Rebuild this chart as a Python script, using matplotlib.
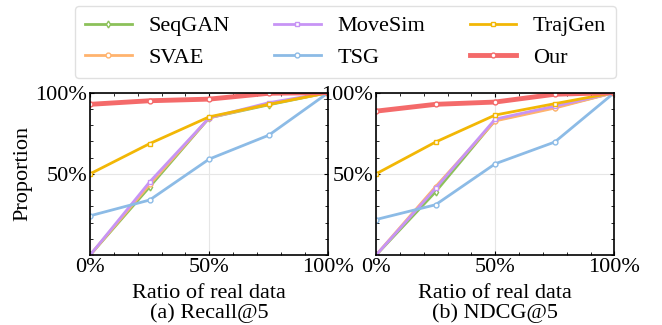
import numpy as np
import matplotlib
matplotlib.use("Agg")
import matplotlib.pyplot as plt
from matplotlib.ticker import AutoMinorLocator, PercentFormatter

plt.rcParams['font.family'] = ['Liberation Serif', 'DejaVu Serif']
plt.rcParams['font.size'] = 16

# Datos (proporción, 0-1)
ratios = [0, 25, 50, 75, 100]
names = ['SeqGAN', 'SVAE', 'MoveSim', 'TSG', 'TrajGen', 'Our']

recall_seqgan = [0.0, 0.42, 0.845, 0.925, 1.0]
recall_svae = [0.0, 0.435, 0.845, 0.93, 1.0]
recall_movesim = [0.0, 0.45, 0.845, 0.938, 1.0]
recall_tsg = [0.242, 0.339, 0.591, 0.738, 1.0]
recall_trajgen = [0.50, 0.686, 0.851, 0.928, 1.0]
recall_our = [0.928, 0.95, 0.96, 0.996, 1.0]

ndcg_seqgan = [0.0, 0.39, 0.83, 0.91, 1.0]
ndcg_svae = [0.0, 0.421, 0.826, 0.905, 1.0]
ndcg_movesim = [0.0, 0.411, 0.837, 0.917, 1.0]
ndcg_tsg = [0.219, 0.31, 0.562, 0.696, 1.0]
ndcg_trajgen = [0.50, 0.696, 0.862, 0.932, 1.0]
ndcg_our = [0.886, 0.928, 0.942, 0.99, 1.0]

colores = ['#8cc15a', '#ffb36e', '#c794f5', '#8cbbe6', '#f2b705', '#f46a6a']
marcadores = ['d', 'o', 's', 'o', 's', 'o']
anchos = [2, 2, 2, 2, 2, 3.5]

fig, axes = plt.subplots(1, 2, figsize=(6.62, 3.25), dpi=100)
fig.subplots_adjust(left=0.136, right=0.928, top=0.715, bottom=0.215, wspace=0.2)

paneles = [
    ([recall_seqgan, recall_svae, recall_movesim, recall_tsg, recall_trajgen, recall_our], '(a) Recall@5'),
    ([ndcg_seqgan, ndcg_svae, ndcg_movesim, ndcg_tsg, ndcg_trajgen, ndcg_our], '(b) NDCG@5'),
]

lineas = []
for ax, (series, titulo) in zip(axes, paneles):
    lineas = []
    for vals, nom, c, m, lw in zip(series, names, colores, marcadores, anchos):
        l, = ax.plot(ratios, np.array(vals) * 100, color=c, marker=m, lw=lw,
                     markersize=3.5, markerfacecolor='white', markeredgecolor=c,
                     markeredgewidth=1, label=nom)
        lineas.append(l)
    ax.set_xlim(0, 100)
    ax.set_ylim(0, 100)
    ax.set_xticks([0, 50, 100])
    ax.set_yticks([50, 100])
    ax.xaxis.set_major_formatter(PercentFormatter(decimals=0))
    ax.yaxis.set_major_formatter(PercentFormatter(decimals=0))
    ax.xaxis.set_minor_locator(AutoMinorLocator(5))
    ax.yaxis.set_minor_locator(AutoMinorLocator(5))
    ax.tick_params(which='both', direction='in', top=True, right=True)
    ax.tick_params(which='major', length=3, labelsize=16, pad=2)
    ax.tick_params(which='minor', length=2)
    ax.grid(True, which='major', color='#e6e6e6', lw=0.8)
    ax.set_axisbelow(True)
    for s in ax.spines.values():
        s.set_linewidth(1.2)
    ax.set_xlabel('Ratio of real data\n' + titulo, fontsize=16, labelpad=5, linespacing=1.0)

axes[0].set_ylabel('Proportion', fontsize=16, labelpad=2)

fig.legend(lineas, names, loc='upper center', bbox_to_anchor=(0.522, 0.982), ncol=3,
           fontsize=16, frameon=True, fancybox=True, edgecolor='#d9d9d9',
           columnspacing=2.0, handlelength=2.1, handletextpad=0.75,
           borderpad=0.45, labelspacing=0.5, borderaxespad=0.0)

plt.savefig('out.png')
